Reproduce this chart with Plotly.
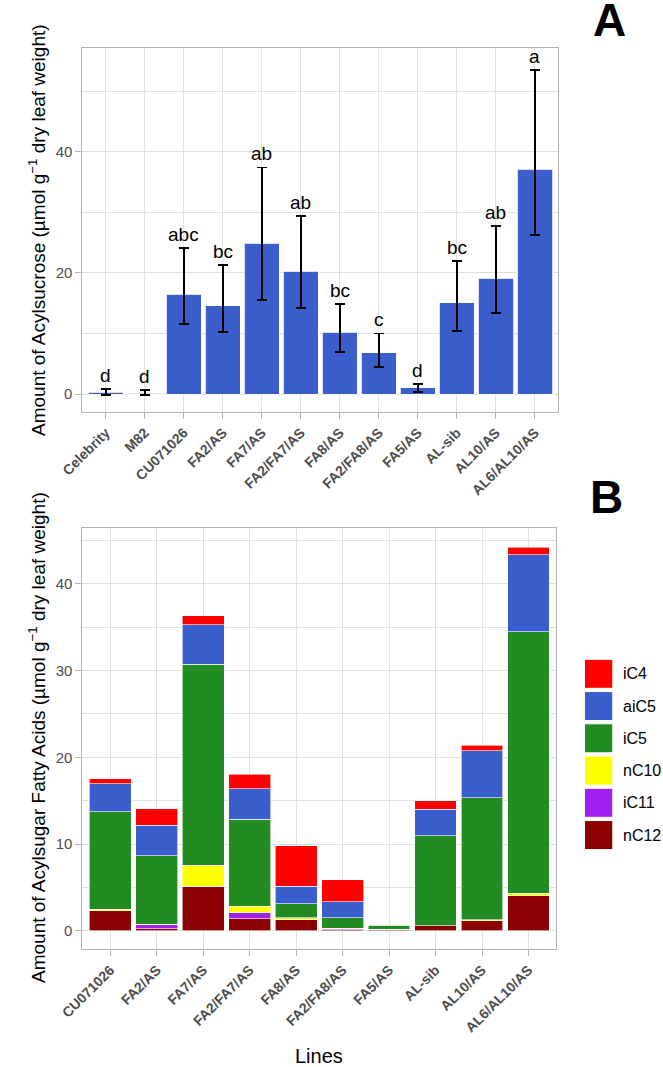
import plotly.graph_objects as go

# ---------------- data ----------------
lines_a = ["Celebrity", "M82", "CU071026", "FA2/AS", "FA7/AS", "FA2/FA7/AS", "FA8/AS",
           "FA2/FA8/AS", "FA5/AS", "AL-sib", "AL10/AS", "AL6/AL10/AS"]
acylsucrose = [0.25, 0.15, 16.5, 14.6, 24.9, 20.3, 10.2, 6.8, 1.05, 15.1, 19.1, 37.1]
err_upper = [0.8, 0.7, 24.1, 21.3, 37.4, 29.4, 14.8, 10.0, 1.65, 21.9, 27.7, 53.5]
err_lower = [-0.15, -0.2, 11.55, 10.2, 15.5, 14.2, 6.9, 4.45, 0.33, 10.45, 13.4, 26.2]
letters = ["d", "d", "abc", "bc", "ab", "ab", "bc", "c", "d", "bc", "ab", "a"]

lines_b = ["CU071026", "FA2/AS", "FA7/AS", "FA2/FA7/AS", "FA8/AS", "FA2/FA8/AS",
           "FA5/AS", "AL-sib", "AL10/AS", "AL6/AL10/AS"]
nC12 = [2.35, 0.27, 5.18, 1.42, 1.38, 0.15, 0.2, 0.6, 1.15, 4.03]
iC11 = [0.0, 0.5, 0.0, 0.68, 0.0, 0.15, 0.0, 0.0, 0.0, 0.0]
nC10 = [0.18, 0.0, 2.38, 0.74, 0.12, 0.0, 0.0, 0.0, 0.12, 0.31]
iC5 = [11.2, 7.87, 23.17, 10.03, 1.65, 1.23, 0.45, 10.34, 14.09, 30.14]
aiC5 = [3.25, 3.53, 4.55, 3.53, 2.03, 1.81, 0.1, 3.07, 5.38, 8.84]
iC4 = [0.55, 1.93, 1.05, 1.65, 4.65, 2.54, 0.0, 1.0, 0.66, 0.86]

stack_names = ["nC12", "iC11", "nC10", "iC5", "aiC5", "iC4"]
stack_values = [nC12, iC11, nC10, iC5, aiC5, iC4]
stack_colors = ["#8B0000", "#A020F0", "#FFFF00", "#228B22", "#3A5FCD", "#FF0000"]
legend_order = ["iC4", "aiC5", "iC5", "nC10", "iC11", "nC12"]

# ---------------- layout helpers ----------------
W, H = 663, 1067
def px(x):
    return x / W
def py(y):
    return 1 - y / H

BLUE = "#3A5FCD"
GRID = "#E0E0E0"
BORDER = "#B3B3B3"
TICKC = "#4D4D4D"
FONT = "Liberation Sans, Arial, sans-serif"

fig = go.Figure()

# Panel A
fig.add_trace(go.Bar(
    x=lines_a, y=acylsucrose, xaxis="x", yaxis="y",
    marker=dict(color=BLUE, line=dict(color="white", width=0.8)),
    error_y=dict(type="data", symmetric=False,
                 array=[u - m for u, m in zip(err_upper, acylsucrose)],
                 arrayminus=[m - l for m, l in zip(acylsucrose, err_lower)],
                 color="black", thickness=1.8, width=5),
    showlegend=False,
))

# Panel B
for name, vals, col in zip(stack_names, stack_values, stack_colors):
    fig.add_trace(go.Bar(
        x=lines_b, y=vals, name=name, xaxis="x2", yaxis="y2",
        marker=dict(color=col, line=dict(color="white", width=0.6)),
        showlegend=False,
    ))

annotations = []
for cat, up, lab in zip(lines_a, err_upper, letters):
    annotations.append(dict(x=cat, y=up, xref="x", yref="y", text=lab, showarrow=False,
                            yanchor="bottom", yshift=1, font=dict(size=19, color="black", family=FONT)))

# panel letters
annotations.append(dict(x=px(607.5), y=py(20), xref="paper", yref="paper", text="<b>A</b>",
                        showarrow=False, xanchor="center", yanchor="middle",
                        font=dict(size=46, color="black", family=FONT)))
annotations.append(dict(x=px(604.5), y=py(497), xref="paper", yref="paper", text="<b>B</b>",
                        showarrow=False, xanchor="center", yanchor="middle",
                        font=dict(size=46, color="black", family=FONT)))

# axis titles
annotations.append(dict(x=px(14.5), y=py(230), xref="paper", yref="paper",
                        text="Amount of Acylsucrose (µmol g<sup>−1</sup> dry leaf weight)",
                        textangle=-90, showarrow=False, xanchor="center", yanchor="middle",
                        font=dict(size=19, color="black", family=FONT)))
annotations.append(dict(x=px(14.5), y=py(737), xref="paper", yref="paper",
                        text="Amount of Acylsugar Fatty Acids (µmol g<sup>−1</sup> dry leaf weight)",
                        textangle=-90, showarrow=False, xanchor="center", yanchor="middle",
                        font=dict(size=19, color="black", family=FONT)))
annotations.append(dict(x=px(307), y=py(1056), xref="paper", yref="paper", text="Lines",
                        showarrow=False, xanchor="center", yanchor="middle",
                        font=dict(size=20, color="black", family=FONT)))

# custom legend
shapes = []
color_of = dict(zip(stack_names, stack_colors))
for i, name in enumerate(legend_order):
    cy = 673.8 + i * 32.25
    shapes.append(dict(type="rect", xref="paper", yref="paper",
                       x0=px(581.7), x1=px(611), y0=py(cy + 14.5), y1=py(cy - 14.5),
                       fillcolor=color_of[name], line=dict(color="white", width=1)))
    annotations.append(dict(x=px(620), y=py(cy), xref="paper", yref="paper", text=name,
                            showarrow=False, xanchor="left", yanchor="middle",
                            font=dict(size=16, color="black", family=FONT)))

axis_common = dict(showline=True, mirror=True, linecolor=BORDER, linewidth=1.2,
                   showgrid=True, gridcolor=GRID, gridwidth=1, zeroline=False,
                   ticks="outside", ticklen=6, tickcolor=BORDER, tickwidth=1,
                   ticklabelstandoff=0)

xtickfont = dict(size=14, color=TICKC, family=FONT, weight="bold")
ytickfont = dict(size=15, color=TICKC, family=FONT)

fig.update_layout(
    width=W, height=H, margin=dict(l=0, r=0, t=0, b=0),
    paper_bgcolor="white", plot_bgcolor="white",
    barmode="stack", bargap=0.1,
    font=dict(family=FONT),
    xaxis=dict(domain=[px(61.6), px(554.6)], anchor="y", type="category",
               categoryorder="array", categoryarray=lines_a, range=[-0.6, 11.6],
               tickangle=-45, tickfont=xtickfont, **axis_common),
    yaxis=dict(domain=[py(412), py(48)], anchor="x", range=[-2.97, 57.12],
               tickvals=[0, 20, 40], tickfont=ytickfont,
               minor=dict(tickvals=[10, 30, 50], showgrid=True, gridcolor=GRID, gridwidth=0.6, ticks=""),
               **axis_common),
    xaxis2=dict(domain=[px(61.6), px(552.5)], anchor="y2", type="category",
                categoryorder="array", categoryarray=lines_b, range=[-0.6, 9.6],
                tickangle=-45, tickfont=xtickfont, **axis_common),
    yaxis2=dict(domain=[py(949.3), py(528)], anchor="x2", range=[-2.11, 46.41],
                tickvals=[0, 10, 20, 30, 40], tickfont=ytickfont,
                minor=dict(tickvals=[5, 15, 25, 35, 45], showgrid=True, gridcolor=GRID, gridwidth=0.6, ticks=""),
                **axis_common),
    annotations=annotations,
    shapes=shapes,
)

fig.write_html(
    "out.html",
    config={"displayModeBar": False},
    post_script="document.body.style.margin='0';document.body.style.padding='0';"
                "document.documentElement.style.overflow='hidden';document.body.style.overflow='hidden';",
)
